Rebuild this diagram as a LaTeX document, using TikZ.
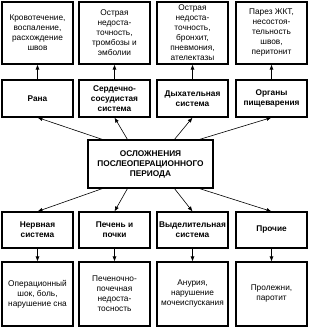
\documentclass[tikz,border=0pt]{standalone}
\usepackage{fontspec}
\setmainfont{Liberation Sans}
\usetikzlibrary{arrows.meta}
\begin{document}
\begin{tikzpicture}[x=1pt,y=-1pt,
  box/.style={draw,line width=1.1pt,minimum width=71pt,inner sep=1pt,align=center,
    font=\fontsize{8.3}{10}\selectfont},
  topbox/.style={box,minimum height=62pt},
  midbox/.style={box,minimum height=37pt,font=\fontsize{8.3}{10}\selectfont\bfseries},
  lowbox/.style={box,minimum height=36pt,font=\fontsize{8.3}{10}\selectfont\bfseries},
  botbox/.style={box,minimum height=64pt},
  central/.style={box,minimum width=125pt,minimum height=48pt,font=\fontsize{8.3}{10}\selectfont\bfseries},
  arr/.style={-{Latex[length=5pt,width=4pt]},line width=0.6pt}
]
\useasboundingbox (0,0) rectangle (309,328);
% top row
\node[topbox] (t1) at (37.5,33) {Кровотечение,\\воспаление,\\расхождение\\швов};
\node[topbox] (t2) at (114.5,33) {Острая\\недоста-\\точность,\\тромбозы и\\эмболии};
\node[topbox] (t3) at (192.5,33) {Острая\\недоста-\\точность,\\бронхит,\\пневмония,\\ателектазы};
\node[topbox] (t4) at (271.5,33) {Парез ЖКТ,\\несостоя-\\тельность\\швов,\\перитонит};
% second row
\node[midbox] (m1) at (37.5,98.5) {Рана};
\node[midbox] (m2) at (114.5,98.5) {Сердечно-\\сосудистая\\система};
\node[midbox] (m3) at (192.5,98.5) {Дыхательная\\система};
\node[midbox] (m4) at (271.5,98.5) {Органы\\пищеварения};
% central
\node[central] (c) at (150.5,164) {ОСЛОЖНЕНИЯ\\ПОСЛЕОПЕРАЦИОННОГО\\ПЕРИОДА};
% third row
\node[lowbox] (l1) at (37.5,230) {Нервная\\система};
\node[lowbox] (l2) at (114.5,230) {Печень и\\почки};
\node[lowbox] (l3) at (192.5,230) {Выделительная\\система};
\node[lowbox] (l4) at (271.5,230) {Прочие};
% bottom row
\node[botbox] (b1) at (37.5,294) {Операционный\\шок, боль,\\нарушение сна};
\node[botbox] (b2) at (114.5,294) {Печеночно-\\почечная\\недоста-\\тосность};
\node[botbox] (b3) at (192.5,294) {Анурия,\\нарушение\\мочеиспускания};
\node[botbox] (b4) at (271.5,294) {Пролежни,\\паротит};
% arrows
\foreach \i in {1,2,3,4} {
  \draw[arr] (m\i.north) -- (t\i.south);
  \draw[arr] (l\i.south) -- (b\i.north);
}
\draw[arr] ([xshift=15pt]c.north west) -- (m1.south);
\draw[arr] ([xshift=40pt]c.north west) -- (m2.south);
\draw[arr] ([xshift=87pt]c.north west) -- (m3.south);
\draw[arr] ([xshift=112pt]c.north west) -- (m4.south);
\draw[arr] ([xshift=15pt]c.south west) -- (l1.north);
\draw[arr] ([xshift=40pt]c.south west) -- (l2.north);
\draw[arr] ([xshift=87pt]c.south west) -- (l3.north);
\draw[arr] ([xshift=112pt]c.south west) -- (l4.north);
\end{tikzpicture}
\end{document}
